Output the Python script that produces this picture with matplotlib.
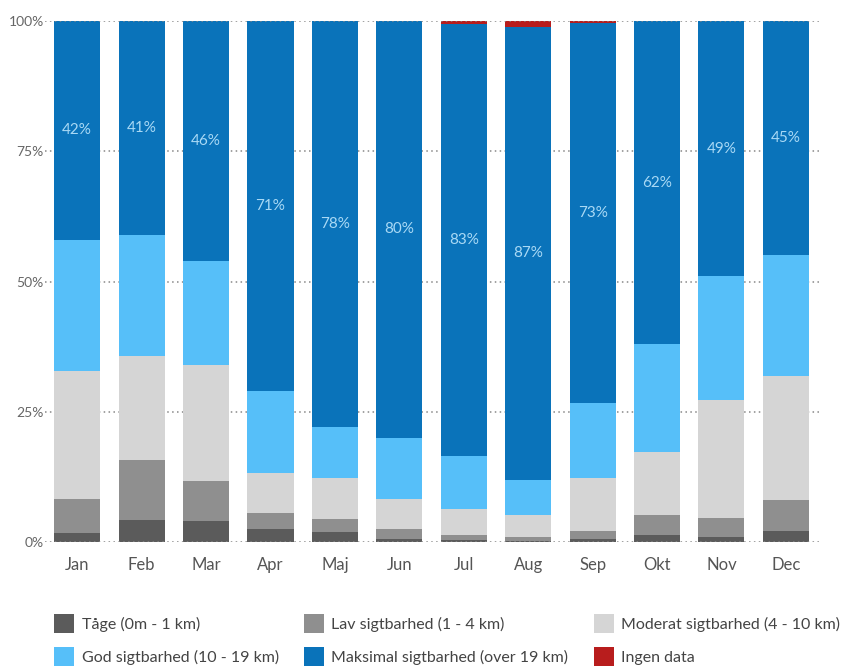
import numpy as np
import matplotlib.pyplot as plt
from matplotlib.patches import Patch

plt.rcParams['font.family'] = ['Lato', 'DejaVu Sans']

months = ['Jan', 'Feb', 'Mar', 'Apr', 'Maj', 'Jun', 'Jul', 'Aug', 'Sep', 'Okt', 'Nov', 'Dec']

# share of days (%) per visibility class
taage = [1.7, 4.2, 4.0, 2.4, 1.9, 0.5, 0.3, 0.2, 0.5, 1.4, 0.9, 2.2]
lav = [6.6, 11.5, 7.7, 3.2, 2.6, 1.9, 1.1, 0.8, 1.7, 3.7, 3.7, 5.8]
moderat = [24.5, 20.0, 22.3, 7.6, 7.7, 5.8, 4.9, 4.1, 10.0, 12.1, 22.6, 23.9]
god = [25.2, 23.3, 20.0, 15.8, 9.8, 11.8, 10.2, 6.8, 14.5, 20.8, 23.8, 23.1]
maks = [42, 41, 46, 71, 78, 80, 83, 87, 73, 62, 49, 45]
ingen = [0, 0, 0, 0, 0, 0, 0.5, 1.1, 0.3, 0, 0, 0]

series = [
    ('Tåge (0m - 1 km)', taage, '#5b5b5b'),
    ('Lav sigtbarhed (1 - 4 km)', lav, '#8f8f8f'),
    ('Moderat sigtbarhed (4 - 10 km)', moderat, '#d5d5d5'),
    ('God sigtbarhed (10 - 19 km)', god, '#56bff9'),
    ('Maksimal sigtbarhed (over 19 km)', maks, '#0a73ba'),
    ('Ingen data', ingen, '#b81d1d'),
]

fig = plt.figure(figsize=(8.49, 6.69), dpi=100)
ax = fig.add_axes([45 / 849, 127 / 669, 775 / 849, 521 / 669])

x = np.arange(len(months))
bottom = np.zeros(len(months))
width = 0.715
handles = {}
for name, vals, col in series:
    vals = np.array(vals, dtype=float)
    ax.bar(x, vals, width, bottom=bottom, color=col, zorder=2)
    if name.startswith('Maksimal'):
        for xi, b, v in zip(x, bottom, vals):
            ax.text(xi, b + v / 2, f'{v:.0f}%', ha='center', va='center',
                    color='#a9d9f5', fontsize=11, zorder=3)
    bottom += vals
    handles[name] = Patch(facecolor=col, edgecolor='none')

ax.set_xlim(-0.5, 11.53)
ax.set_ylim(0, 100)
ax.set_yticks([0, 25, 50, 75, 100])
ax.set_yticklabels(['0%', '25%', '50%', '75%', '100%'])
for yv in [0, 25, 50, 75, 100]:
    ax.axhline(yv, color='#888888', linestyle=(0, (1, 2.2)), linewidth=1.1,
               zorder=1 if yv not in (0, 100) else 4)
ax.set_xticks(x)
ax.set_xticklabels(months)
ax.tick_params(axis='y', length=0, pad=1, labelsize=10, labelcolor='#666666')
ax.tick_params(axis='x', length=0, pad=11, labelsize=12, labelcolor='#555555')
for s in ax.spines.values():
    s.set_visible(False)

# legend in two rows of three
order = [0, 3, 1, 4, 2, 5]
names = [series[i][0] for i in order]
fig.legend([handles[n] for n in names], names, ncol=3, loc='center left',
           bbox_to_anchor=(40 / 849, 29 / 669), frameon=False, fontsize=11.5,
           handlelength=1.25, handleheight=1.45, handletextpad=0.45,
           columnspacing=1.6, labelspacing=0.85, labelcolor='#444444')

fig.savefig('out.png', dpi=100, facecolor='white')
